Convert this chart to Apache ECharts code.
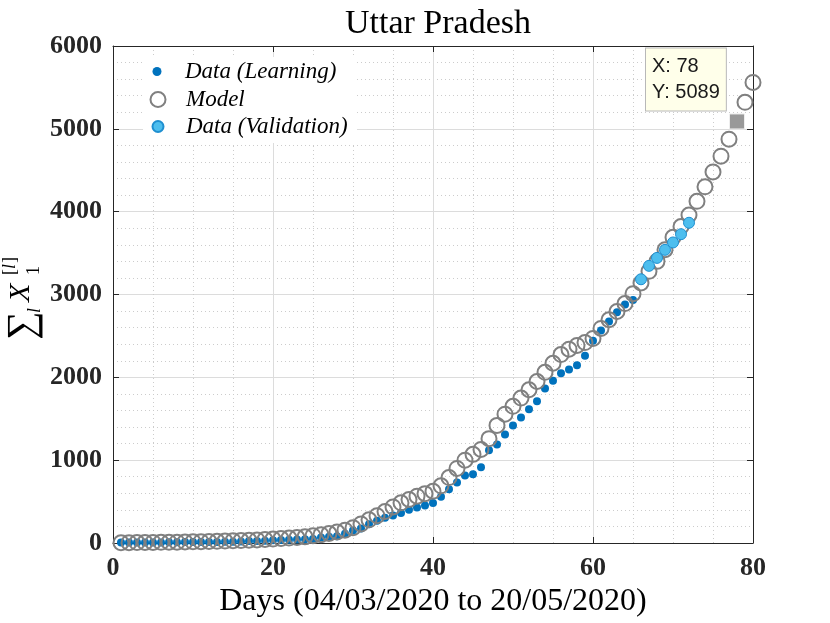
<!DOCTYPE html>
<html>
<head>
<meta charset="utf-8">
<script src="https://cdn.jsdelivr.net/npm/echarts@6/dist/echarts.min.js"></script>
<style>html,body{margin:0;padding:0;background:#fff}#c{width:830px;height:623px}</style>
</head>
<body>
<div id="c"></div>
<script>
// ---- data ----
const titleText = 'Uttar Pradesh';
const xAxisTitle = 'Days (04/03/2020 to 20/05/2020)';
const xTicks = [0, 20, 40, 60, 80];
const yTicks = [0, 1000, 2000, 3000, 4000, 5000, 6000];

const learnDays = [1,2,3,4,5,6,7,8,9,10,11,12,13,14,15,16,17,18,19,20,21,22,23,24,25,26,27,28,29,30,31,32,33,34,35,36,37,38,39,40,41,42,43,44,45,46,47,48,49,50,51,52,53,54,55,56,57,58,59,60,61,62,63,64,65];
const learnVals = [6,6,6,7,7,7,9,10,11,12,12,13,13,15,16,19,23,24,27,33,35,38,41,45,49,65,75,82,113,150,174,227,270,305,332,361,400,430,452,483,558,650,730,815,830,915,1120,1190,1310,1420,1515,1615,1710,1865,1960,2050,2095,2145,2260,2443,2565,2675,2785,2880,2935];

const validDays = [66,67,68,69,70,71,72];
const validVals = [3184,3346,3442,3539,3628,3728,3866];

const modelDays = [1,2,3,4,5,6,7,8,9,10,11,12,13,14,15,16,17,18,19,20,21,22,23,24,25,26,27,28,29,30,31,32,33,34,35,36,37,38,39,40,41,42,43,44,45,46,47,48,49,50,51,52,53,54,55,56,57,58,59,60,61,62,63,64,65,66,67,68,69,70,71,72,73,74,75,76,77,78,79,80];
const modelVals = [3,4,5,6,7,8,9,10,12,14,16,18,20,23,26,29,33,37,42,47,53,59,66,74,88,100,115,132,155,185,230,280,330,380,435,485,525,565,596,625,690,790,900,1000,1070,1130,1260,1420,1555,1650,1750,1850,1950,2060,2170,2275,2340,2385,2420,2470,2590,2695,2795,2890,3010,3140,3280,3400,3540,3690,3820,3960,4125,4300,4480,4670,4875,5089,5320,5560];

const tipDay = 78;
const tipVal = 5089;

const seriesNames = ['Data (Learning)', 'Model', 'Data (Validation)'];

// ---- build ----
const learnData = learnDays.map((d, i) => [d, learnVals[i]]);
const validData = validDays.map((d, i) => [d, validVals[i]]);
const modelData = modelDays.map((d, i) => d === tipDay
  ? { value: [d, modelVals[i]], itemStyle: { opacity: 0 } }
  : [d, modelVals[i]]);

const serif = '"Liberation Serif", "Times New Roman", serif';
const axisColor = '#262626';

const chart = echarts.init(document.getElementById('c'), null, { renderer: 'canvas' });

function legendFor(name, w, top) {
  return {
    data: [name],
    left: 157 - w / 2,
    top: top,
    padding: 0,
    icon: 'circle',
    itemWidth: w,
    itemHeight: w,
    selectedMode: false,
    textStyle: {
      fontFamily: serif, fontStyle: 'italic', fontSize: 23, color: '#000',
      padding: [0, 0, 0, 23 - w / 2]
    }
  };
}

chart.setOption({
  animation: false,
  backgroundColor: '#fff',
  title: {
    text: titleText,
    left: 433,
    textAlign: 'center',
    top: 2,
    textStyle: { fontFamily: serif, fontWeight: 'normal', fontSize: 34, color: '#000' }
  },
  grid: { left: 113, right: 77, top: 46, bottom: 80, containLabel: false },
  legend: [
    legendFor(seriesNames[0], 9, 60),
    legendFor(seriesNames[1], 15, 88),
    legendFor(seriesNames[2], 11, 115)
  ],
  graphic: [
    { type: 'rect', z: 3, silent: true, shape: { x: 143, y: 57, width: 214, height: 86 }, style: { fill: '#fff' } },
    {
      type: 'group', x: 31.5, y: 340, rotation: Math.PI / 2, silent: true,
      children: [
        { type: 'text', x: 0, y: -8.5, style: { text: '\u2211', font: '40px ' + serif, fill: '#000', align: 'left', verticalAlign: 'middle' } },
        { type: 'text', x: 27, y: 4, style: { text: 'l', font: 'italic 18px ' + serif, fill: '#000', align: 'left', verticalAlign: 'middle' } },
        { type: 'text', x: 38, y: -10, style: { text: 'X', font: 'italic 30px ' + serif, fill: '#000', align: 'left', verticalAlign: 'middle' } },
        { type: 'text', x: 65, y: 3, style: { text: '1', font: '18px ' + serif, fill: '#000', align: 'left', verticalAlign: 'middle' } },
        { type: 'text', x: 65, y: -21.5, style: { text: '[', font: '18px ' + serif, fill: '#000', align: 'left', verticalAlign: 'middle' } },
        { type: 'text', x: 71, y: -21.5, style: { text: 'l', font: 'italic 18px ' + serif, fill: '#000', align: 'left', verticalAlign: 'middle' } },
        { type: 'text', x: 77, y: -21.5, style: { text: ']', font: '18px ' + serif, fill: '#000', align: 'left', verticalAlign: 'middle' } }
      ]
    }
  ],
  xAxis: [
    {
      type: 'value', min: xTicks[0], max: xTicks[xTicks.length - 1], interval: xTicks[1] - xTicks[0],
      name: xAxisTitle, nameLocation: 'middle', nameGap: 42,
      nameTextStyle: { fontFamily: serif, fontSize: 32, color: '#000' },
      axisLine: { show: true, onZero: false, lineStyle: { color: axisColor, width: 1 } },
      axisTick: { show: true, inside: true, length: 6, lineStyle: { color: axisColor } },
      axisLabel: { margin: 12, fontFamily: serif, fontWeight: 'bold', fontSize: 26, color: axisColor, formatter: v => String(v) },
      splitLine: { show: true, lineStyle: { color: '#dcdcdc', width: 1 } },
      minorTick: { show: false, splitNumber: 4 },
      minorSplitLine: { show: true, lineStyle: { color: '#cccccc', type: [1, 3], width: 1 } }
    },
    {
      type: 'value', position: 'top', min: xTicks[0], max: xTicks[xTicks.length - 1], interval: xTicks[1] - xTicks[0],
      axisLine: { show: true, onZero: false, lineStyle: { color: axisColor, width: 1 } },
      axisTick: { show: true, inside: true, length: 6, lineStyle: { color: axisColor } },
      axisLabel: { show: false }, splitLine: { show: false }
    }
  ],
  yAxis: [
    {
      type: 'value', min: yTicks[0], max: yTicks[yTicks.length - 1], interval: yTicks[1] - yTicks[0],
      axisLine: { show: true, onZero: false, lineStyle: { color: axisColor, width: 1 } },
      axisTick: { show: true, inside: true, length: 6, lineStyle: { color: axisColor } },
      axisLabel: { margin: 11, fontFamily: serif, fontWeight: 'bold', fontSize: 26, color: axisColor, formatter: v => String(v) },
      splitLine: { show: true, lineStyle: { color: '#dcdcdc', width: 1 } },
      minorTick: { show: false, splitNumber: 5 },
      minorSplitLine: { show: true, lineStyle: { color: '#cccccc', type: [1, 3], width: 1 } }
    },
    {
      type: 'value', position: 'right', min: yTicks[0], max: yTicks[yTicks.length - 1], interval: yTicks[1] - yTicks[0],
      axisLine: { show: true, onZero: false, lineStyle: { color: axisColor, width: 1 } },
      axisTick: { show: true, inside: true, length: 6, lineStyle: { color: axisColor } },
      axisLabel: { show: false }, splitLine: { show: false }
    }
  ],
  series: [
    {
      name: seriesNames[0], type: 'scatter', data: learnData,
      symbol: 'circle', symbolSize: 8, z: 2,
      itemStyle: { color: '#0072BD', opacity: 1 }
    },
    {
      name: seriesNames[1], type: 'scatter', data: modelData,
      symbol: 'circle', symbolSize: 15, z: 3,
      itemStyle: { color: 'rgba(255,255,255,0)', borderColor: '#808080', borderWidth: 2, opacity: 1 }
    },
    {
      name: seriesNames[2], type: 'scatter', data: validData,
      symbol: 'circle', symbolSize: 11, z: 4,
      itemStyle: { color: '#4DBEEE', borderColor: '#1f8fd0', borderWidth: 1, opacity: 1 }
    },
    {
      name: 'tip', type: 'scatter', data: [[tipDay, tipVal]],
      symbol: 'rect', symbolSize: 15, z: 5,
      itemStyle: { color: '#999999', borderColor: '#eeeeee', borderWidth: 1, opacity: 1 },
      label: {
        show: true, position: [-83, -65],
        formatter: p => 'X: ' + p.value[0] + '\nY: ' + p.value[1],
        fontFamily: '"Liberation Sans", Arial, sans-serif', fontSize: 20, lineHeight: 26, color: '#1a1a1a',
        backgroundColor: '#ffffea', borderColor: '#b8b8b8', borderWidth: 1,
        padding: [5, 6, 5, 6], align: 'left', verticalAlign: 'top'
      }
    }
  ]
});
</script>
</body>
</html>
